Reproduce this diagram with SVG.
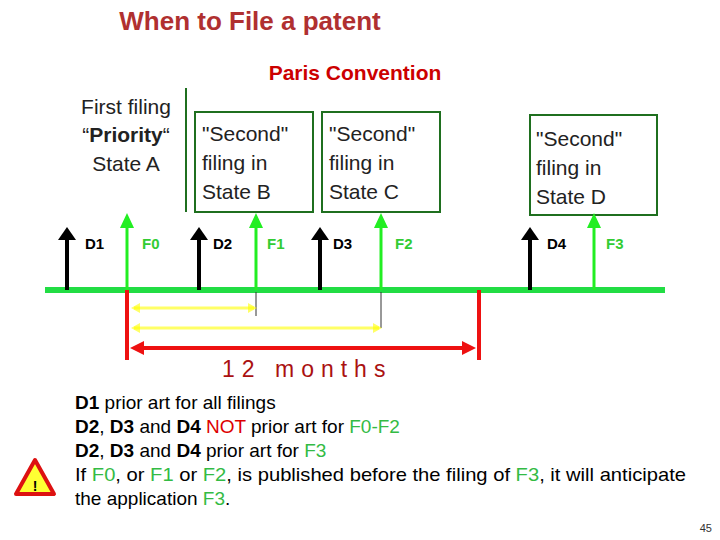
<svg xmlns="http://www.w3.org/2000/svg" width="720" height="540" viewBox="0 0 720 540">
<style>
text{font-family:"Liberation Sans",Arial,sans-serif}
.box{fill:#fff;stroke:#1f6f1f;stroke-width:2}
.bt{font-size:21px;fill:#222}
.lb{font-size:15px;font-weight:bold}
.g{fill:#33cc33}
.t{font-size:19px;fill:#000}
</style>
<rect width="720" height="540" fill="#fff"/>
<text x="250" y="30" text-anchor="middle" font-size="26" font-weight="bold" fill="#b03030">When to File a patent</text>
<text x="355" y="80" text-anchor="middle" font-size="21" font-weight="bold" fill="#cc0000">Paris Convention</text>
<g id="boxA"><line x1="186" y1="88" x2="186" y2="212" stroke="#1f6f1f" stroke-width="2"/>
<text class="bt" x="126" y="114" text-anchor="middle">First filing</text><text class="bt" x="126" y="142" text-anchor="middle">“<tspan font-weight="bold">Priority</tspan>“</text><text class="bt" x="126" y="171" text-anchor="middle">State A</text></g>
<g id="boxB"><rect class="box" x="195" y="112" width="118" height="100"/><text class="bt" x="202" y="141">"Second"</text><text class="bt" x="202" y="170">filing in</text><text class="bt" x="202" y="199">State B</text></g>
<g id="boxC"><rect class="box" x="322" y="112" width="118" height="100"/><text class="bt" x="329" y="141">"Second"</text><text class="bt" x="329" y="170">filing in</text><text class="bt" x="329" y="199">State C</text></g>
<g id="boxD"><rect class="box" x="530" y="115" width="127" height="100"/><text class="bt" x="536" y="146">"Second"</text><text class="bt" x="536" y="175">filing in</text><text class="bt" x="536" y="204">State D</text></g>
<g id="connectors">
<line x1="45" y1="290" x2="665" y2="290" stroke="#22dd44" stroke-width="6"/>
<g stroke="#000" stroke-width="4" fill="#000">
<line x1="67" y1="290" x2="67" y2="238"/><line x1="199" y1="290" x2="199" y2="238"/><line x1="320" y1="290" x2="320" y2="238"/><line x1="530" y1="290" x2="530" y2="238"/>
</g>
<g fill="#000"><path d="M58,240 L67,227 L76,240Z"/><path d="M190,240 L199,227 L208,240Z"/><path d="M311,240 L320,227 L329,240Z"/><path d="M521,240 L530,227 L539,240Z"/></g>
<g stroke="#22ee22" stroke-width="3"><line x1="127" y1="290" x2="127" y2="225"/><line x1="256" y1="290" x2="256" y2="225"/><line x1="381" y1="290" x2="381" y2="225"/><line x1="594" y1="290" x2="594" y2="225"/></g>
<g fill="#22ee22"><path d="M120,228 L127,213 L134,228Z"/><path d="M249,228 L256,213 L263,228Z"/><path d="M374,228 L381,213 L388,228Z"/><path d="M587,228 L594,213 L601,228Z"/></g>
<line x1="256" y1="292" x2="256" y2="316" stroke="#333" stroke-width="1"/>
<line x1="381" y1="292" x2="381" y2="328" stroke="#333" stroke-width="1"/>
<g stroke="#ff0" stroke-opacity="0.6" stroke-width="3" fill="none"><line x1="134" y1="308" x2="254" y2="308"/><line x1="134" y1="328" x2="379" y2="328"/></g>
<g fill="#ff0" fill-opacity="0.6"><path d="M131,308 L140,303 L140,313Z"/><path d="M257,308 L248,303 L248,313Z"/><path d="M131,328 L140,323 L140,333Z"/><path d="M382,328 L373,323 L373,333Z"/></g>
<g stroke="#ee1111" stroke-width="4"><line x1="127" y1="290" x2="127" y2="360"/><line x1="479" y1="290" x2="479" y2="360"/><line x1="138" y1="348" x2="468" y2="348"/></g>
<g fill="#ee1111"><path d="M130,348 L144,341 L144,355Z"/><path d="M476,348 L462,341 L462,355Z"/></g>
</g>
<g class="lb"><text x="85" y="249">D1</text><text x="142" y="249" class="g">F0</text><text x="213" y="249">D2</text><text x="267" y="249" class="g">F1</text><text x="333" y="249">D3</text><text x="395" y="249" class="g">F2</text><text x="547" y="249">D4</text><text x="606" y="249" class="g">F3</text></g>
<text x="222" y="377" font-size="23" fill="#aa1111" letter-spacing="7">12  months</text>
<g class="t">
<text x="75" y="409"><tspan font-weight="bold">D1</tspan> prior art for all filings</text>
<text x="75" y="433"><tspan font-weight="bold">D2</tspan>, <tspan font-weight="bold">D3</tspan> and <tspan font-weight="bold">D4</tspan> <tspan fill="#dd0000">NOT</tspan> prior art for <tspan fill="#33bb44">F0-F2</tspan></text>
<text x="75" y="457"><tspan font-weight="bold">D2</tspan>, <tspan font-weight="bold">D3</tspan> and <tspan font-weight="bold">D4</tspan> prior art for <tspan fill="#33bb44">F3</tspan></text>
<text x="75" y="481" textLength="611" lengthAdjust="spacingAndGlyphs">If <tspan fill="#33bb44">F0</tspan>, or <tspan fill="#33bb44">F1</tspan> or <tspan fill="#33bb44">F2</tspan>, is published before the filing of <tspan fill="#33bb44">F3</tspan>,  it will anticipate</text>
<text x="75" y="505">the application <tspan fill="#33bb44">F3</tspan>.</text>
</g>
<g id="warn"><path d="M35,460 L54,494 L16,494Z" fill="#ffff33" stroke="#dd1111" stroke-width="4" stroke-linejoin="round"/><text x="35" y="491" text-anchor="middle" font-size="14" font-weight="bold">!</text></g>
<text x="712" y="532" text-anchor="end" font-size="11" fill="#333">45</text>
</svg>
